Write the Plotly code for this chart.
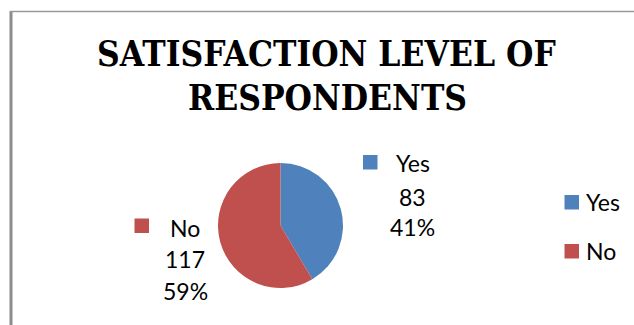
import plotly.graph_objects as go

# Survey responses
labels = ["Yes", "No"]
values = [83, 117]
pct_labels = ["41%", "59%"]
colors = ["#4F81BD", "#C0504D"]

W, H = 634, 325
title_lines = ["SATISFACTION LEVEL OF", "RESPONDENTS"]


def px(x):
    return x / W


def py(y):
    return 1 - y / H


fig = go.Figure()

# Pie centred at (280.5, 225.5) px with radius 62.5 px
cx, cy, r = 280.5, 225.5, 62.5
fig.add_trace(go.Pie(
    labels=labels,
    values=values,
    sort=False,
    direction="clockwise",
    rotation=0,
    marker=dict(colors=colors, line=dict(width=0)),
    textinfo="none",
    hoverinfo="skip",
    showlegend=False,
    domain=dict(x=[px(cx - r), px(cx + r)], y=[py(cy + r), py(cy - r)]),
))

label_font = dict(family="Lato", size=23, color="#000000")
title_font = dict(family="DejaVu Serif Condensed", size=35, color="#000000", weight="bold")
annotations = []
shapes = []

# Title, one annotation per line
for text, ycen, xcen in zip(title_lines, [54, 97], [326, 327]):
    annotations.append(dict(
        text=text, x=px(xcen), y=py(ycen), xref="paper", yref="paper",
        xanchor="center", yanchor="middle", showarrow=False, font=title_font,
    ))

# Data labels with legend keys: (key box x0, y0, text centre x, line centres y)
label_layout = [
    dict(key=(363, 155), xc=413, ys=[163.4, 197, 227.5]),
    dict(key=(134.5, 218.5), xc=185, ys=[228, 259.2, 291.3]),
]
for lab, val, pct, col, lay in zip(labels, values, pct_labels, colors, label_layout):
    kx, ky = lay["key"]
    shapes.append(dict(type="rect", xref="paper", yref="paper",
                       x0=px(kx), x1=px(kx + 14.5), y0=py(ky), y1=py(ky + 14.5),
                       fillcolor=col, line=dict(width=0)))
    for text, yc in zip([lab, str(val), pct], lay["ys"]):
        annotations.append(dict(
            text=text, x=px(lay["xc"]), y=py(yc), xref="paper", yref="paper",
            xanchor="center", yanchor="middle", showarrow=False, font=label_font,
        ))

# Legend
for i, (lab, col) in enumerate(zip(labels, colors)):
    top = 195 + i * 49
    shapes.append(dict(type="rect", xref="paper", yref="paper",
                       x0=px(564.5), x1=px(579), y0=py(top), y1=py(top + 14.5),
                       fillcolor=col, line=dict(width=0)))
    annotations.append(dict(
        text=lab, x=px(584), y=py(top + 7), xref="paper", yref="paper",
        xanchor="left", yanchor="middle", showarrow=False, font=label_font,
    ))

# Chart frame (left and top edges)
shapes.append(dict(type="line", xref="paper", yref="paper",
                   x0=px(11), x1=px(11), y0=py(11), y1=0,
                   line=dict(color="#8C8C8C", width=3)))
shapes.append(dict(type="line", xref="paper", yref="paper",
                   x0=px(10), x1=1, y0=py(11.5), y1=py(11.5),
                   line=dict(color="#9A9A9A", width=1.5)))

fig.update_layout(
    width=W, height=H,
    margin=dict(l=0, r=0, t=0, b=0),
    paper_bgcolor="#FFFFFF",
    plot_bgcolor="#FFFFFF",
    annotations=annotations,
    shapes=shapes,
    showlegend=False,
)

fig.write_html("out.html")
